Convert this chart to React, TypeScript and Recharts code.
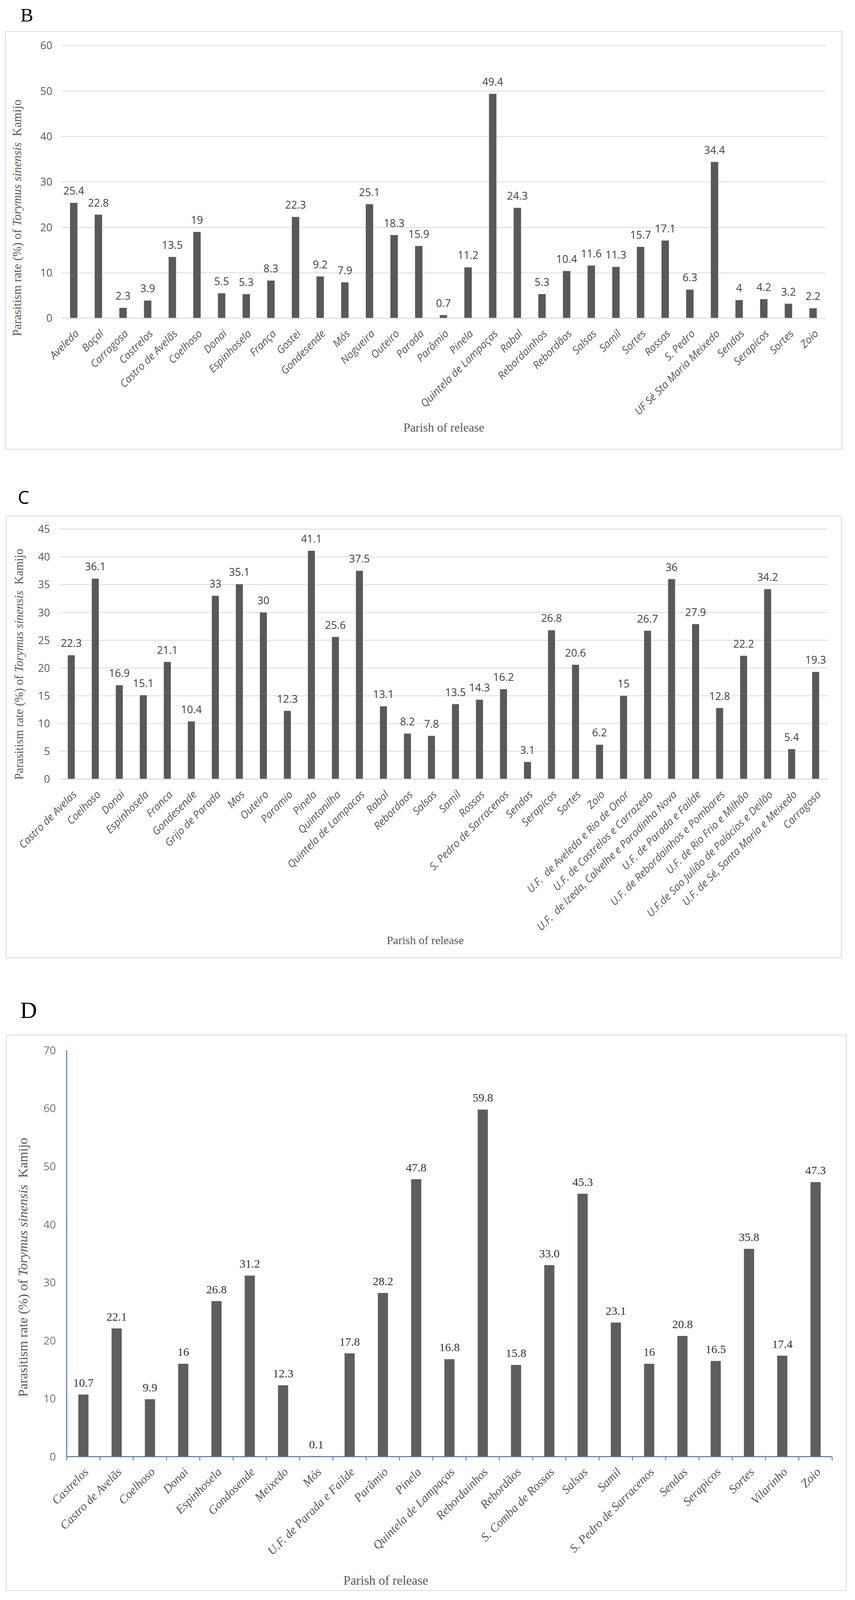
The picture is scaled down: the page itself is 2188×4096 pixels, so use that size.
import React from 'react';
import { BarChart, Bar, XAxis, YAxis, CartesianGrid, LabelList } from 'recharts';

// ---------- data ----------
const bCategories = [
  'Aveleda', 'Baçal', 'Carragosa', 'Castrelos', 'Castro de Avelãs', 'Coelhoso', 'Donai', 'Espinhosela',
  'França', 'Gostei', 'Gondesende', 'Mós', 'Nogueira', 'Outeiro', 'Parada', 'Parâmio', 'Pinela',
  'Quintela de Lampaças', 'Rabal', 'Rebordainhos', 'Rebordãos', 'Salsas', 'Samil', 'Sortes', 'Rossas',
  'S. Pedro', 'UF Sé Sta Maria Meixedo', 'Sendas', 'Serapicos', 'Sortes', 'Zoio',
];
const bValues = [
  25.4, 22.8, 2.3, 3.9, 13.5, 19, 5.5, 5.3, 8.3, 22.3, 9.2, 7.9, 25.1, 18.3, 15.9, 0.7, 11.2,
  49.4, 24.3, 5.3, 10.4, 11.6, 11.3, 15.7, 17.1, 6.3, 34.4, 4, 4.2, 3.2, 2.2,
];
const bTicks = [0, 10, 20, 30, 40, 50, 60];

const cCategories = [
  'Castro de Avelas', 'Coelhoso', 'Donai', 'Espinhosela', 'Franca', 'Gondesende', 'Grijo de Parada',
  'Mos', 'Outeiro', 'Paramio', 'Pinela', 'Quintanilha', 'Quintela de Lampacas', 'Rabal', 'Rebordaos',
  'Salsas', 'Samil', 'Rossas', 'S. Pedro de Sarracenos', 'Sendas', 'Serapicos', 'Sortes', 'Zoio',
  'U.F.  de Aveleda e Rio de Onor', 'U.F. de Castrelos e Carrazedo',
  'U.F.  de Izeda, Calvelhe e Paradinha Nova', 'U.F. de Parada e Failde',
  'U.F. de Rebordainhos e Pombares', 'U.F. de Rio Frio e Milhão',
  'U.F.de Sao Julião de Palácios e Deilão', 'U.F. de Sé, Santa Maria e Meixedo', 'Carragosa',
];
const cValues = [
  22.3, 36.1, 16.9, 15.1, 21.1, 10.4, 33, 35.1, 30, 12.3, 41.1, 25.6, 37.5, 13.1, 8.2, 7.8, 13.5,
  14.3, 16.2, 3.1, 26.8, 20.6, 6.2, 15, 26.7, 36, 27.9, 12.8, 22.2, 34.2, 5.4, 19.3,
];
const cTicks = [0, 5, 10, 15, 20, 25, 30, 35, 40, 45];

const dCategories = [
  'Castrelos', 'Castro de Avelãs', 'Coelhoso', 'Donai', 'Espinhosela', 'Gondosende', 'Meixedo', 'Mós',
  'U.F. de Parada e Failde', 'Parâmio', 'Pinela', 'Quintela de Lampaças', 'Rebordainhos', 'Rebordãos',
  'S. Comba de Rossas', 'Salsas', 'Samil', 'S. Pedro de Sarracenos', 'Sendas', 'Serapicos', 'Sortes',
  'Vilarinho', 'Zoio',
];
const dValues = [
  10.7, 22.1, 9.9, 16, 26.8, 31.2, 12.3, 0.1, 17.8, 28.2, 47.8, 16.8, 59.8, 15.8, 33.0, 45.3, 23.1,
  16, 20.8, 16.5, 35.8, 17.4, 47.3,
];
const dValueText = [
  '10.7', '22.1', '9.9', '16', '26.8', '31.2', '12.3', '0.1', '17.8', '28.2', '47.8', '16.8', '59.8',
  '15.8', '33.0', '45.3', '23.1', '16', '20.8', '16.5', '35.8', '17.4', '47.3',
];
const dTicks = [0, 10, 20, 30, 40, 50, 60, 70];

const bData = bValues.map((v, i) => ({ idx: i, value: v }));
const cData = cValues.map((v, i) => ({ idx: i, value: v }));
const dData = dValues.map((v, i) => ({ idx: i, value: v, text: dValueText[i] }));

// ---------- layout helpers ----------
const K = 0.7468;
const f = (v: number) => v * K;
const SANS = '"Open Sans", "Liberation Sans", sans-serif';
const SERIF = '"Liberation Serif", "Times New Roman", serif';
const GRAY = '#595959';
const BLUE = '#4472c4';

function RotTick(props: any) {
  const { x, y, payload, index, names, family, size, color, tickColor, tickLen, lastIndex, halfBand } = props;
  const half = (payload && payload.offset) || halfBand;
  return (
    <g>
      {tickColor ? (
        <line x1={x - half} y1={y} x2={x - half} y2={y + tickLen} stroke={tickColor} strokeWidth={2} />
      ) : null}
      {tickColor && index === lastIndex ? (
        <line x1={x + half} y1={y} x2={x + half} y2={y + tickLen} stroke={tickColor} strokeWidth={2} />
      ) : null}
      <g transform={`translate(${x + 15},${y + 41})`}>
        <text
          transform="rotate(-45)"
          textAnchor="end"
          fill={color}
          fontFamily={family}
          fontStyle="italic"
          fontSize={size}
          style={{ whiteSpace: 'pre' }}
        >
          {names[payload.value]}
        </text>
      </g>
    </g>
  );
}

function YTitle({ cx, cy, size }: { cx: number; cy: number; size: number }) {
  return (
    <text
      transform={`translate(${cx},${cy}) rotate(-90)`}
      textAnchor="middle"
      dominantBaseline="central"
      fontFamily={SERIF}
      fontSize={size}
      fill={GRAY}
      style={{ whiteSpace: 'pre' }}
    >
      {'Parasitism rate (%) of '}
      <tspan fontStyle="italic">{'Torymus sinensis'}</tspan>
      {'  Kamijo'}
    </text>
  );
}

export default function App() {
  // Panel boxes in reference pixels
  const B = { l: 18, t: 108, r: 2885, b: 1540, pl: 211, pr: 2829, pt: 156, pb: 1090.5 };
  const C = { l: 21, t: 1769, r: 2883, b: 3283, pl: 203, pr: 2836, pt: 1814, pb: 2671 };
  const D = { l: 21, t: 3548, r: 2900, b: 5452, pl: 228, pr: 2851, pt: 3600, pb: 4993 };

  return (
    <div style={{ position: 'absolute', left: 0, top: 0, width: 2188, height: 4096, background: '#fff', overflow: 'hidden' }}>
      {/* Panel B */}
      <div style={{ position: 'absolute', left: f(B.l), top: f(B.t) }}>
        <BarChart
          width={f(B.r - B.l)}
          height={f(B.b - B.t)}
          data={bData}
          margin={{ top: f(B.pt - B.t), right: f(B.r - B.pr), left: 0, bottom: 0 }}
          barCategoryGap="35%"
        >
          <CartesianGrid vertical={false} stroke="#d9d9d9" strokeWidth={2} />
          <XAxis
            dataKey="idx"
            type="category"
            interval={0}
            tickLine={false}
            tickSize={0}
            tickMargin={0}
            axisLine={{ stroke: '#d9d9d9', strokeWidth: 2 }}
            height={f(B.b - B.pb)}
            tick={(p: any) => (
              <RotTick {...p} names={bCategories} family={SANS} size={27} color={GRAY} />
            )}
          />
          <YAxis
            type="number"
            domain={[0, 60]}
            ticks={bTicks}
            interval={0}
            axisLine={false}
            tickLine={false}
            tickSize={0}
            tickMargin={f(31)}
            width={f(B.pl - B.l)}
            tick={{ fill: GRAY, fontSize: 27, fontFamily: SANS }}
          />
          <Bar dataKey="value" fill="#595959" isAnimationActive={false}>
            <LabelList dataKey="value" position="top" offset={21} fill="#404040" fontSize={27} fontFamily={SANS} />
          </Bar>
        </BarChart>
      </div>

      {/* Panel C */}
      <div style={{ position: 'absolute', left: f(C.l), top: f(C.t) }}>
        <BarChart
          width={f(C.r - C.l)}
          height={f(C.b - C.t)}
          data={cData}
          margin={{ top: f(C.pt - C.t), right: f(C.r - C.pr), left: 0, bottom: 0 }}
          barCategoryGap="35%"
        >
          <CartesianGrid vertical={false} stroke="#d9d9d9" strokeWidth={2} />
          <XAxis
            dataKey="idx"
            type="category"
            interval={0}
            tickLine={false}
            tickSize={0}
            tickMargin={0}
            axisLine={{ stroke: '#d9d9d9', strokeWidth: 2 }}
            height={f(C.b - C.pb)}
            tick={(p: any) => (
              <RotTick {...p} names={cCategories} family={SANS} size={27} color={GRAY} />
            )}
          />
          <YAxis
            type="number"
            domain={[0, 45]}
            ticks={cTicks}
            interval={0}
            axisLine={false}
            tickLine={false}
            tickSize={0}
            tickMargin={f(32)}
            width={f(C.pl - C.l)}
            tick={{ fill: GRAY, fontSize: 27, fontFamily: SANS }}
          />
          <Bar dataKey="value" fill="#595959" isAnimationActive={false}>
            <LabelList dataKey="value" position="top" offset={21} fill="#404040" fontSize={27} fontFamily={SANS} />
          </Bar>
        </BarChart>
      </div>

      {/* Panel D */}
      <div style={{ position: 'absolute', left: f(D.l), top: f(D.t) }}>
        <BarChart
          width={f(D.r - D.l)}
          height={f(D.b - D.t)}
          data={dData}
          margin={{ top: f(D.pt - D.t), right: f(D.r - D.pr), left: 0, bottom: 0 }}
          barCategoryGap="35%"
        >
          <XAxis
            dataKey="idx"
            type="category"
            interval={0}
            tickLine={false}
            tickSize={0}
            tickMargin={0}
            axisLine={{ stroke: BLUE, strokeWidth: 2.5 }}
            height={f(D.b - D.pb)}
            tick={(p: any) => (
              <RotTick
                {...p}
                names={dCategories}
                family={SERIF}
                size={31}
                color={GRAY}
                tickColor={BLUE}
                tickLen={10}
                lastIndex={dCategories.length - 1}
                halfBand={f(D.pr - D.pl) / dCategories.length / 2}
              />
            )}
          />
          <YAxis
            type="number"
            domain={[0, 70]}
            ticks={dTicks}
            interval={0}
            axisLine={{ stroke: BLUE, strokeWidth: 2.5 }}
            tickLine={false}
            tickSize={0}
            tickMargin={f(37)}
            width={f(D.pl - D.l)}
            tick={{ fill: '#767676', fontSize: 28, fontFamily: SANS }}
          />
          <Bar dataKey="value" fill="#5e5e5e" isAnimationActive={false}>
            <LabelList dataKey="text" position="top" offset={20} fill="#333333" fontSize={30} fontFamily={SERIF} />
          </Bar>
        </BarChart>
      </div>

      {/* Overlay: frames, panel letters, axis titles */}
      <svg width={2188} height={4096} style={{ position: 'absolute', left: 0, top: 0, pointerEvents: 'none' }}>
        <rect x={f(B.l)} y={f(B.t)} width={f(B.r - B.l)} height={f(B.b - B.t)} fill="none" stroke="#d9d9d9" strokeWidth={2} />
        <rect x={f(C.l)} y={f(C.t)} width={f(C.r - C.l)} height={f(C.b - C.t)} fill="none" stroke="#d9d9d9" strokeWidth={2} />
        <rect x={f(D.l)} y={f(D.t)} width={f(D.r - D.l)} height={f(D.b - D.t)} fill="none" stroke="#d9d9d9" strokeWidth={2} />

        <text x={f(70)} y={f(73)} fontFamily={SERIF} fontSize={f(66)} fill="#000">B</text>
        <text x={f(61)} y={f(1727)} fontFamily={SANS} fontSize={f(62)} fill="#000">C</text>
        <text x={f(69)} y={f(3489)} fontFamily={SERIF} fontSize={f(80)} fill="#000">D</text>

        <YTitle cx={f(58)} cy={f(747)} size={f(42)} />
        <YTitle cx={f(65)} cy={f(2277)} size={f(41)} />
        <YTitle cx={f(77)} cy={f(4344)} size={f(46)} />

        <text x={f(1521)} y={f(1466)} textAnchor="middle" dominantBaseline="central" fontFamily={SERIF} fontSize={f(42)} fill={GRAY}>Parish of release</text>
        <text x={f(1457)} y={f(3222)} textAnchor="middle" dominantBaseline="central" fontFamily={SERIF} fontSize={f(40)} fill={GRAY}>Parish of release</text>
        <text x={f(1322)} y={f(5418)} textAnchor="middle" dominantBaseline="central" fontFamily={SERIF} fontSize={f(44)} fill={GRAY}>Parish of release</text>
      </svg>
    </div>
  );
}
